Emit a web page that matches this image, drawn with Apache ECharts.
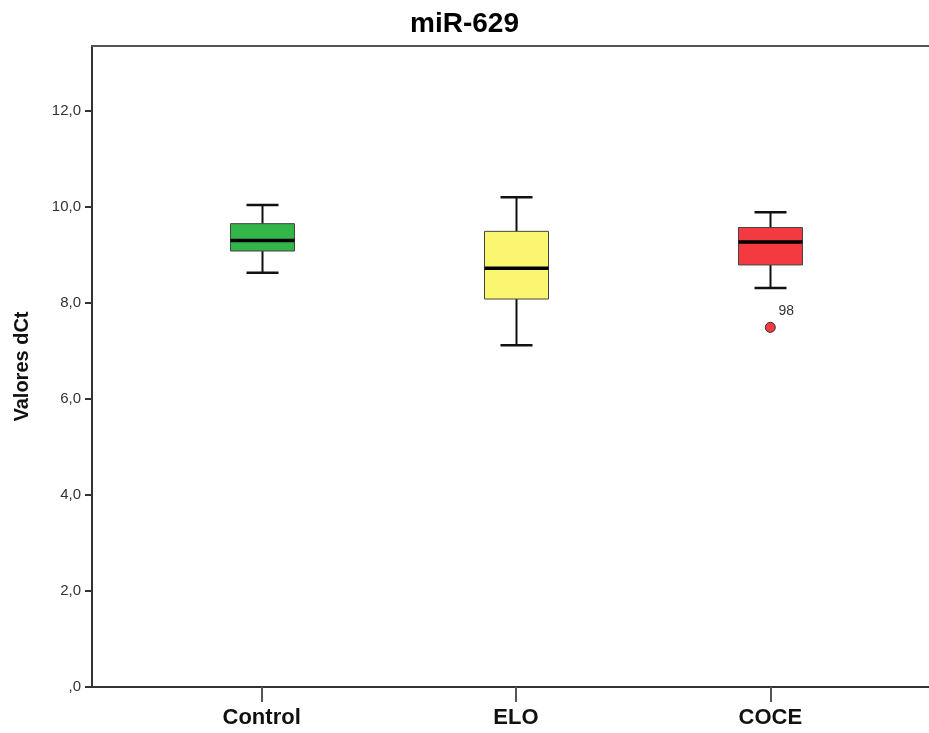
<!DOCTYPE html>
<html>
<head>
<meta charset="utf-8">
<script src="https://cdn.jsdelivr.net/npm/echarts@6/dist/echarts.min.js"></script>
<style>
html,body{margin:0;padding:0;background:#fff;}
#chart{width:929px;height:733px;}
</style>
</head>
<body>
<div id="chart"></div>
<script>
// Data
var categories = ['Control', 'ELO', 'COCE'];
// [min, Q1, median, Q3, max]
var controlBox = [8.63, 9.08, 9.30, 9.65, 10.04];
var eloBox     = [7.12, 8.08, 8.72, 9.49, 10.20];
var coceBox    = [8.31, 8.79, 9.27, 9.57, 9.89];
var boxColors  = ['#33b649', '#fbf66f', '#f23a40'];
var outliers   = [[2, 7.49, '98']];
var yTicks     = [0, 2, 4, 6, 8, 10, 12];

var boxes = [controlBox, eloBox, coceBox];
var boxData = boxes.map(function (b, i) {
  return { value: [i].concat(b), itemStyle: { color: boxColors[i] } };
});

var chart = echarts.init(document.getElementById('chart'));
var XMIN = -0.667, XMAX = 2.624, YMAX = 13.35;
var FONT = "'Liberation Sans', Arial, sans-serif";

function fmtY(v) {
  if (v === 0) return ',0';
  return v.toFixed(1).replace('.', ',');
}

chart.setOption({
  backgroundColor: '#fff',
  animation: false,
  title: {
    text: 'miR-629',
    left: 'center',
    top: 5,
    textStyle: { fontFamily: FONT, fontSize: 28, fontWeight: 'bold', color: '#000' }
  },
  grid: { left: 92, right: 0, top: 46, bottom: 46 },
  xAxis: [{
    type: 'value',
    min: XMIN, max: XMAX,
    splitLine: { show: false },
    axisLine: { show: true, onZero: false, lineStyle: { color: '#333', width: 2 } },
    axisTick: { show: true, length: 15, customValues: [0, 1, 2], lineStyle: { color: '#555', width: 2 } },
    axisLabel: {
      customValues: [0, 1, 2],
      margin: 20,
      fontFamily: FONT, fontSize: 22, fontWeight: 'bold', color: '#111',
      formatter: function (v) { return categories[Math.round(v)]; }
    }
  }, {
    type: 'value',
    position: 'top',
    min: XMIN, max: XMAX,
    splitLine: { show: false },
    axisLine: { show: true, onZero: false, lineStyle: { color: '#555', width: 2 } },
    axisTick: { show: false },
    axisLabel: { show: false }
  }],
  yAxis: {
    type: 'value',
    position: 'left',
    min: 0, max: YMAX,
    name: 'Valores dCt',
    nameLocation: 'middle',
    nameGap: 60,
    nameTextStyle: { fontFamily: FONT, fontSize: 20, fontWeight: 'bold', color: '#111' },
    splitLine: { show: false },
    axisLine: { show: true, onZero: false, lineStyle: { color: '#333', width: 2 } },
    axisTick: { show: true, length: 7, customValues: yTicks, lineStyle: { color: '#333', width: 2 } },
    axisLabel: {
      customValues: yTicks,
      margin: 11,
      fontFamily: FONT, fontSize: 15, color: '#333',
      formatter: fmtY
    }
  },
  series: [{
    type: 'custom',
    xAxisIndex: 0,
    data: boxData,
    encode: { x: 0, y: [1, 2, 3, 4, 5] },
    renderItem: function (params, api) {
      var x = api.value(0);
      var pMin = api.coord([x, api.value(1)]);
      var pQ1 = api.coord([x, api.value(2)]);
      var pMed = api.coord([x, api.value(3)]);
      var pQ3 = api.coord([x, api.value(4)]);
      var pMax = api.coord([x, api.value(5)]);
      var cx = Math.round(pMin[0]) + 0.5;
      var hw = 32, cw = 16;
      var fill = boxColors[params.dataIndex];
      var lineStyle = { stroke: '#111', lineWidth: 2 };
      return {
        type: 'group',
        children: [
          { type: 'line', shape: { x1: cx, y1: pMax[1], x2: cx, y2: pQ3[1] }, style: lineStyle },
          { type: 'line', shape: { x1: cx, y1: pQ1[1], x2: cx, y2: pMin[1] }, style: lineStyle },
          { type: 'line', shape: { x1: cx - cw, y1: pMax[1], x2: cx + cw, y2: pMax[1] }, style: { stroke: '#111', lineWidth: 2.5 } },
          { type: 'line', shape: { x1: cx - cw, y1: pMin[1], x2: cx + cw, y2: pMin[1] }, style: { stroke: '#111', lineWidth: 2.5 } },
          { type: 'rect', shape: { x: cx - hw, y: pQ3[1], width: 2 * hw, height: pQ1[1] - pQ3[1] },
            style: { fill: fill, stroke: '#444', lineWidth: 1 } },
          { type: 'line', shape: { x1: cx - hw, y1: pMed[1], x2: cx + hw, y2: pMed[1] }, style: { stroke: '#000', lineWidth: 3.5 } }
        ]
      };
    }
  }, {
    type: 'scatter',
    xAxisIndex: 0,
    data: outliers.map(function (o) { return { value: [o[0], o[1]], name: o[2] }; }),
    symbol: 'circle',
    symbolSize: 10,
    itemStyle: { color: '#f23a40', borderColor: '#333', borderWidth: 1, opacity: 1 },
    label: {
      show: true,
      position: 'top',
      offset: [16, 1],
      formatter: function (p) { return p.name; },
      fontFamily: FONT, fontSize: 14, color: '#333'
    }
  }]
});
</script>
</body>
</html>
